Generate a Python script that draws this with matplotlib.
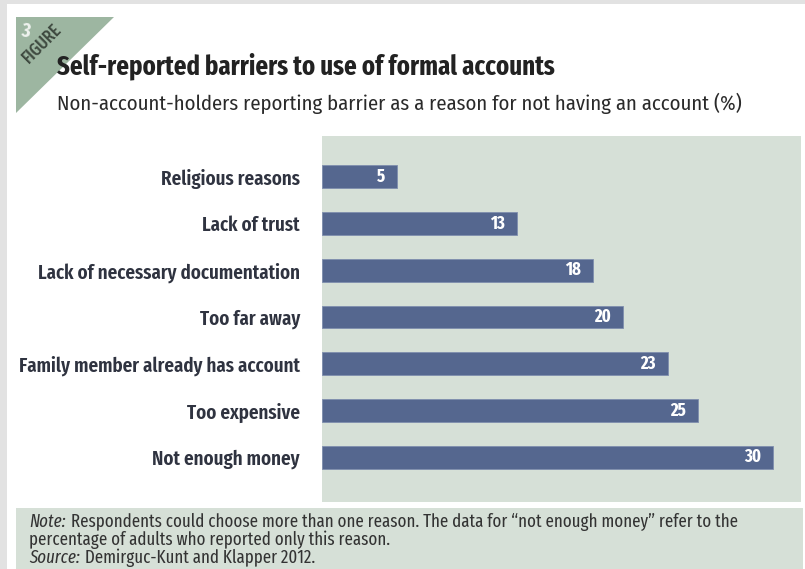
import matplotlib
matplotlib.use("Agg")
import matplotlib.pyplot as plt
from matplotlib.patches import Rectangle, Polygon

categories = ["Religious reasons", "Lack of trust", "Lack of necessary documentation",
              "Too far away", "Family member already has account", "Too expensive",
              "Not enough money"]
values = [5, 13, 18, 20, 23, 25, 30]

title = "Self-reported barriers to use of formal accounts"
subtitle = "Non-account-holders reporting barrier as a reason for not having an account (%)"
note_label = "Note:"
note_line1 = "Respondents could choose more than one reason. The data for \u201cnot enough money\u201d refer to the"
note_line2 = "percentage of adults who reported only this reason."
source_label = "Source:"
source_text = "Demirguc-Kunt and Klapper 2012."

W, H = 805, 569
XCOND = ["Fira Sans Extra Condensed", "Roboto Condensed", "Liberation Sans", "DejaVu Sans"]
COND = ["Fira Sans Condensed", "Barlow Semi Condensed", "Liberation Sans", "DejaVu Sans"]

GREEN = "#d6e0d7"
TRI = "#9db6a1"
BAR = "#55678f"
TXT = "#2f3340"

fig = plt.figure(figsize=(W / 100, H / 100), dpi=100, facecolor="#e2e2e2")

def fx(x):
    return x / W

def fy(y):
    return 1 - y / H

fig.add_artist(Rectangle((fx(7), 0), 1 - fx(7), fy(4), transform=fig.transFigure,
                         facecolor="white", edgecolor="none", zorder=0))
fig.add_artist(Rectangle((fx(16), 0), fx(803) - fx(16), fy(508), transform=fig.transFigure,
                         facecolor=GREEN, edgecolor="none", zorder=1))
fig.add_artist(Polygon([(fx(16), fy(17)), (fx(114), fy(17)), (fx(16), fy(113))],
                       closed=True, transform=fig.transFigure, facecolor=TRI,
                       edgecolor="none", zorder=1))

x0 = 322
unit = 15.03
ax = fig.add_axes([fx(x0), fy(502), fx(801) - fx(x0), fy(136) - fy(502)])
ax.set_facecolor(GREEN)
for s in ax.spines.values():
    s.set_visible(False)
pos = list(range(len(categories)))
ax.barh(pos, values, height=0.49, color=BAR, edgecolor="#7f8eae", linewidth=0.6)
ax.set_xlim(0, (801 - x0) / unit)
ax.set_ylim(6.956, -0.87)
ax.set_xticks([])
ax.set_yticks(pos)
ax.set_yticklabels(categories, family=XCOND, fontweight="semibold", color=TXT, fontsize=12)
ax.tick_params(axis="y", length=0, pad=(x0 - 300) * 0.72)

for p, v in zip(pos, values):
    ax.annotate(str(v), (v, p), xytext=(-12, 0), textcoords="offset pixels",
                ha="right", va="center", color="white", fontweight="bold",
                family=XCOND, fontsize=13)

t_title = fig.text(fx(57), fy(66), title, family=XCOND, fontweight="bold",
                   color="#222222", fontsize=16, va="center", ha="left")
t_sub = fig.text(fx(57), fy(103), subtitle, family=COND, color="#2a2a2a",
                 fontsize=13, va="center", ha="left")

t_nl = fig.text(fx(29), fy(522), note_label, family=XCOND, style="italic",
                color="#333333", fontsize=9.5, va="center", ha="left")
t_n1 = fig.text(fx(60), fy(522), note_line1, family=XCOND,
                color="#333333", fontsize=9.5, va="center", ha="left")
t_n2 = fig.text(fx(29), fy(540), note_line2, family=XCOND,
                color="#333333", fontsize=9.5, va="center", ha="left")
t_sl = fig.text(fx(29), fy(558), source_label, family=XCOND, style="italic",
                color="#333333", fontsize=9.5, va="center", ha="left")
t_s1 = fig.text(fx(70), fy(558), source_text, family=XCOND,
                color="#333333", fontsize=9.5, va="center", ha="left")

fig.text(fx(25.5), fy(31), "3", color="#eef2ee", fontweight="bold", family=XCOND,
         fontsize=14.5, rotation=-10, ha="center", va="center")
t_fig = fig.text(fx(42), fy(44), "FIGURE", color="#3f4a40", family=XCOND,
                 fontweight="medium", fontsize=9, rotation=45, ha="center", va="center")

fig.canvas.draw()
r = fig.canvas.get_renderer()

def fit(t, target):
    bb = t.get_window_extent(r)
    t.set_fontsize(t.get_fontsize() * target / bb.width)

fit(t_title, 497)
fit(t_sub, 689)
fit(t_fig, 46)

bl = t_nl.get_window_extent(r)
b1 = t_n1.get_window_extent(r)
gap = 4
total = bl.width + gap + b1.width
scale = 710 / total
for t in (t_nl, t_n1, t_n2, t_sl, t_s1):
    t.set_fontsize(t.get_fontsize() * scale)

labs = ax.get_yticklabels()
bb = labs[4].get_window_extent(r)
fs = labs[4].get_fontsize() * 281 / bb.width
for l in labs:
    l.set_fontsize(fs)

fig.canvas.draw()
bl = t_nl.get_window_extent(r)
t_n1.set_x((bl.x1 + gap * scale) / W)
bs = t_sl.get_window_extent(r)
t_s1.set_x((bs.x1 + gap * scale) / W)

fig.savefig("out.png", dpi=100, facecolor=fig.get_facecolor())
